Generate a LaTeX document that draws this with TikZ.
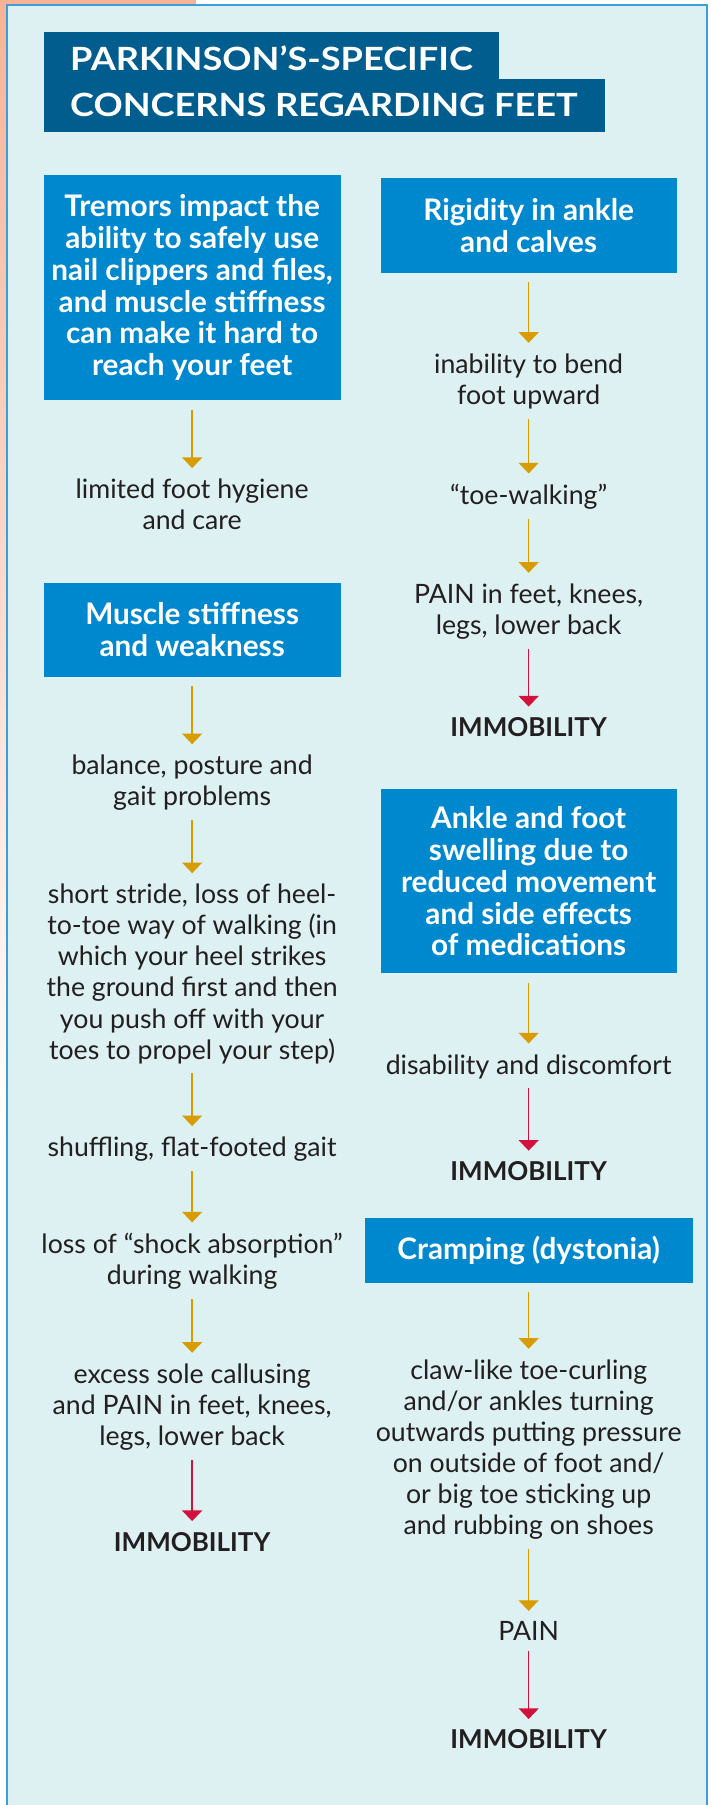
\documentclass[tikz,border=0pt]{standalone}
\usepackage{fontspec}
\setmainfont{Lato}
\newfontfamily\titlefont{Lato}[FakeStretch=1.13]
\usetikzlibrary{arrows.meta}
\definecolor{panel}{HTML}{DDF0F2}
\definecolor{panelborder}{HTML}{3C9DD8}
\definecolor{titleblue}{HTML}{005D8E}
\definecolor{boxblue}{HTML}{0088CE}
\definecolor{gold}{HTML}{D69C00}
\definecolor{redarr}{HTML}{D2123C}
\definecolor{txt}{HTML}{231F20}
\definecolor{peach}{HTML}{F6B396}
\begin{document}
\begin{tikzpicture}[x=0.8629pt,y=-0.8629pt,
  box/.style={fill=boxblue, text=white, font=\fontsize{22.3}{23.9}\selectfont\bfseries, align=center, inner sep=0pt},
  body/.style={text=txt, font=\fontsize{20}{23.3}\selectfont, align=center, inner sep=0pt},
  immob/.style={text=txt, font=\fontsize{19.5}{22}\selectfont\bfseries, inner sep=0pt},
  ttl/.style={text=white, font=\titlefont\fontsize{24}{28}\selectfont\bfseries, inner sep=0pt, anchor=west},
  ga/.style={draw=gold, line width=1.1pt, -{Triangle[width=15pt,length=8pt]}, shorten <=7pt, shorten >=8pt},
  ra/.style={ga, draw=redarr},
]
\useasboundingbox (0,0) rectangle (618,1568.9);
\fill[white] (0,0) rectangle (618,1568.9);
% peach photo fragment at left
\shade[top color=peach, bottom color=white] (0,0) rectangle (6,1000);
\fill[peach] (0,0) rectangle (170,5);
% panel
\fill[panel] (5.8,4.5) rectangle (614.5,1575);
\draw[panelborder, line width=1.4pt] (5.8,1575) -- (5.8,4.5) -- (614.5,4.5) -- (614.5,1575);
% title
\fill[titleblue] (38.2,27.8) rectangle (433.7,68.7);
\fill[titleblue] (38.2,68.7) rectangle (525.9,114.7);
\node[ttl] (title1) at (60.8,50.8) {PARKINSON’S-SPECIFIC};
\node[ttl] (title2) at (60.8,91.3) {CONCERNS REGARDING FEET};
% left column
\node[box, minimum width=222.6pt, minimum height=169.1pt] (b1) at (167,250)
  {Tremors impact the\\ability to safely use\\nail clippers and files,\\and muscle stiffness\\can make it hard to\\reach your feet};
\node[body] (t1) at (167,438.5) {limited foot hygiene\\and care};
\node[box, minimum width=222.6pt, minimum height=69.9pt] (b2) at (167,547.5)
  {Muscle stiffness\\and weakness};
\node[body] (t2) at (167,680.5) {balance, posture and\\gait problems};
\node[body] (t3) at (167,846.5) {short stride, loss of heel-\\to-toe way of walking (in\\which your heel strikes\\the ground first and then\\you push off with your\\toes to propel your step)};
\node[body] (t4) at (167,999) {shuffling, flat-footed gait};
\node[body] (t5) at (167,1096.5) {loss of “shock absorption”\\during walking};
\node[body] (t6) at (167,1223) {excess sole callusing\\and PAIN in feet, knees,\\legs, lower back};
\node[immob] (im1) at (167,1340) {IMMOBILITY};
\draw[ga] (b1) -- (t1);
\draw[ga] (b2) -- (t2);
\draw[ga] (t2) -- (t3);
\draw[ga] (t3) -- (t4);
\draw[ga] (t4) -- (t5);
\draw[ga] (t5) -- (t6);
\draw[ra] (t6) -- (im1);
% right column
\node[box, minimum width=221.8pt, minimum height=70.8pt] (r1) at (459.5,196)
  {Rigidity in ankle\\and calves};
\node[body] (s1) at (459.5,331.5) {inability to bend\\foot upward};
\node[body] (s2) at (459.5,432) {“toe-walking”};
\node[body] (s3) at (459.5,531.5) {PAIN in feet, knees,\\legs, lower back};
\node[immob] (im2) at (459.5,632) {IMMOBILITY};
\node[box, minimum width=221.8pt, minimum height=138pt] (r2) at (459.5,766)
  {Ankle and foot\\swelling due to\\reduced movement\\and side effects\\of medications};
\node[body] (s4) at (459.5,927) {disability and discomfort};
\node[immob] (im3) at (459.5,1018) {IMMOBILITY};
\node[box, minimum width=245.9pt, minimum height=48.3pt] (r3) at (459.5,1087)
  {Cramping (dystonia)};
\node[body] (s5) at (459.5,1260) {claw-like toe-curling\\and/or ankles turning\\outwards putting pressure\\on outside of foot and/\\or big toe sticking up\\and rubbing on shoes};
\node[body] (s6) at (459.5,1418) {PAIN};
\node[immob] (im4) at (459.5,1512) {IMMOBILITY};
\draw[ga] (r1) -- (s1);
\draw[ga] (s1) -- (s2);
\draw[ga] (s2) -- (s3);
\draw[ra] (s3) -- (im2);
\draw[ga] (r2) -- (s4);
\draw[ra] (s4) -- (im3);
\draw[ga] (r3) -- (s5);
\draw[ga] (s5) -- (s6);
\draw[ra] (s6) -- (im4);
\end{tikzpicture}
\end{document}
